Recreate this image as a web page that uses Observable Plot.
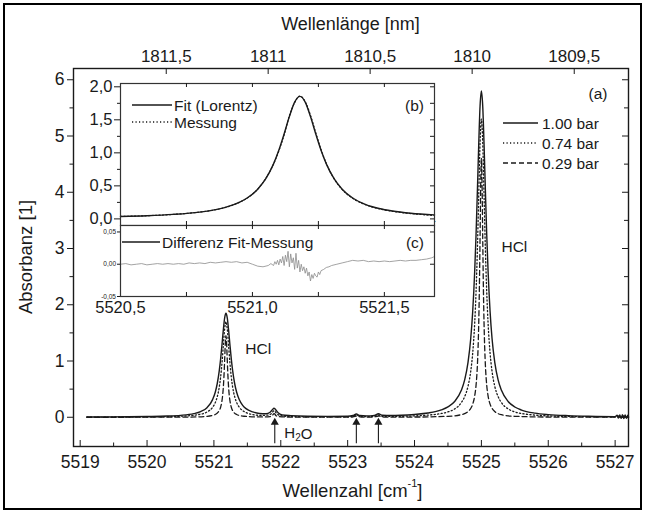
<!DOCTYPE html>
<html><head><meta charset="utf-8">
<script src="https://cdn.jsdelivr.net/npm/d3@7"></script>
<script src="https://cdn.jsdelivr.net/npm/@observablehq/plot@0.6"></script>
<style>
body{margin:0;background:#fff;}
#wrap{position:relative;width:645px;height:513px;overflow:hidden;font-family:"Liberation Sans",Arial,sans-serif;background:#fff;}
#border{position:absolute;left:3px;top:3px;width:635px;height:503px;border:2px solid #000;pointer-events:none;}
</style></head><body>
<div id="wrap"><div id="border"></div></div>
<script>
// ---------- data ----------
// main spectrum: [wavenumber cm-1, absorbance]
const p100 = [[5519.10,0.005],[5519.50,0.007],[5520.00,0.013],[5520.30,0.021],[5520.50,0.034],[5520.70,0.065],[5520.80,0.100],[5520.90,0.175],[5520.98,0.313],[5521.02,0.445],[5521.05,0.600],[5521.08,0.828],[5521.10,1.034],[5521.12,1.281],[5521.14,1.544],[5521.16,1.764],[5521.18,1.850],[5521.20,1.764],[5521.22,1.544],[5521.24,1.281],[5521.26,1.034],[5521.28,0.828],[5521.31,0.600],[5521.34,0.445],[5521.38,0.311],[5521.43,0.212],[5521.48,0.153],[5521.58,0.095],[5521.68,0.067],[5521.78,0.062],[5521.84,0.090],[5521.87,0.129],[5521.90,0.160],[5521.93,0.124],[5521.96,0.080],[5522.02,0.042],[5522.15,0.028],[5522.40,0.018],[5522.70,0.016],[5523.00,0.017],[5523.08,0.032],[5523.13,0.057],[5523.18,0.032],[5523.28,0.024],[5523.40,0.033],[5523.46,0.063],[5523.52,0.035],[5523.65,0.030],[5523.80,0.035],[5524.00,0.050],[5524.20,0.075],[5524.40,0.130],[5524.50,0.185],[5524.60,0.280],[5524.70,0.479],[5524.75,0.665],[5524.80,0.976],[5524.84,1.390],[5524.87,1.880],[5524.90,2.600],[5524.92,3.240],[5524.94,4.020],[5524.96,4.840],[5524.98,5.530],[5525.00,5.800],[5525.02,5.530],[5525.04,4.840],[5525.06,4.020],[5525.08,3.240],[5525.10,2.600],[5525.13,1.880],[5525.16,1.390],[5525.20,0.976],[5525.25,0.665],[5525.30,0.479],[5525.40,0.280],[5525.50,0.182],[5525.60,0.128],[5525.80,0.073],[5526.00,0.047],[5526.30,0.028],[5526.60,0.018],[5527.00,0.012],[5527.03,0.035],[5527.05,-0.015],[5527.07,0.040],[5527.09,-0.020],[5527.11,0.045],[5527.13,-0.025],[5527.15,0.040],[5527.17,-0.020],[5527.19,0.035],[5527.20,0.000]];
const p074 = [[5519.10,0.003],[5519.50,0.004],[5520.00,0.006],[5520.50,0.018],[5520.80,0.055],[5520.90,0.095],[5520.98,0.177],[5521.02,0.260],[5521.05,0.366],[5521.08,0.537],[5521.10,0.712],[5521.12,0.955],[5521.14,1.263],[5521.16,1.564],[5521.18,1.700],[5521.20,1.564],[5521.22,1.263],[5521.24,0.955],[5521.26,0.712],[5521.28,0.537],[5521.31,0.366],[5521.34,0.260],[5521.38,0.177],[5521.43,0.117],[5521.48,0.083],[5521.58,0.048],[5521.70,0.033],[5521.82,0.040],[5521.86,0.067],[5521.90,0.116],[5521.94,0.065],[5521.98,0.034],[5522.10,0.016],[5522.50,0.008],[5523.00,0.009],[5523.08,0.021],[5523.13,0.039],[5523.18,0.021],[5523.30,0.011],[5523.40,0.018],[5523.46,0.040],[5523.52,0.018],[5523.70,0.016],[5524.00,0.024],[5524.20,0.038],[5524.40,0.067],[5524.50,0.095],[5524.60,0.148],[5524.70,0.260],[5524.75,0.366],[5524.80,0.551],[5524.84,0.811],[5524.87,1.140],[5524.90,1.675],[5524.92,2.221],[5524.94,2.979],[5524.96,3.938],[5524.98,4.876],[5525.00,5.300],[5525.02,4.876],[5525.04,3.938],[5525.06,2.979],[5525.08,2.221],[5525.10,1.675],[5525.13,1.140],[5525.16,0.811],[5525.20,0.551],[5525.25,0.366],[5525.30,0.260],[5525.40,0.148],[5525.50,0.095],[5525.60,0.067],[5525.80,0.038],[5526.00,0.024],[5526.50,0.011],[5527.00,0.006],[5527.06,0.025],[5527.10,-0.012],[5527.14,0.030],[5527.18,-0.010],[5527.20,0.012]];
const p029 = [[5519.10,0.000],[5520.00,0.001],[5520.60,0.003],[5520.90,0.017],[5521.02,0.049],[5521.06,0.085],[5521.10,0.178],[5521.12,0.290],[5521.13,0.384],[5521.14,0.522],[5521.15,0.725],[5521.16,1.003],[5521.17,1.305],[5521.18,1.450],[5521.19,1.305],[5521.20,1.003],[5521.21,0.725],[5521.22,0.522],[5521.23,0.384],[5521.24,0.290],[5521.26,0.178],[5521.30,0.085],[5521.34,0.049],[5521.45,0.018],[5521.70,0.005],[5521.84,0.012],[5521.87,0.028],[5521.90,0.063],[5521.93,0.028],[5521.96,0.012],[5522.10,0.004],[5522.50,0.002],[5523.05,0.002],[5523.13,0.022],[5523.20,0.003],[5523.38,0.003],[5523.46,0.022],[5523.54,0.004],[5524.00,0.004],[5524.50,0.017],[5524.70,0.046],[5524.80,0.101],[5524.84,0.156],[5524.87,0.233],[5524.90,0.380],[5524.92,0.566],[5524.94,0.920],[5524.95,1.219],[5524.96,1.656],[5524.97,2.300],[5524.98,3.180],[5524.99,4.140],[5525.00,4.600],[5525.01,4.140],[5525.02,3.180],[5525.03,2.300],[5525.04,1.656],[5525.05,1.219],[5525.06,0.920],[5525.08,0.566],[5525.10,0.380],[5525.13,0.233],[5525.16,0.156],[5525.20,0.101],[5525.30,0.046],[5525.50,0.017],[5526.00,0.004],[5527.20,0.002]];
const seriesNames = ["1.00 bar", "0.74 bar", "0.29 bar"];

// inset (b): Lorentz fit and measurement of the 5521.18 line
const fitB = [[5520.50,0.037],[5520.60,0.048],[5520.70,0.068],[5520.80,0.103],[5520.85,0.133],[5520.90,0.178],[5520.95,0.251],[5520.98,0.316],[5521.02,0.450],[5521.05,0.605],[5521.08,0.833],[5521.10,1.039],[5521.12,1.286],[5521.14,1.549],[5521.16,1.769],[5521.18,1.855],[5521.20,1.769],[5521.22,1.549],[5521.24,1.286],[5521.26,1.039],[5521.28,0.833],[5521.31,0.605],[5521.34,0.450],[5521.38,0.316],[5521.43,0.217],[5521.48,0.158],[5521.53,0.120],[5521.60,0.086],[5521.69,0.061]];
const measB = [[5520.50,0.037],[5520.60,0.048],[5520.70,0.068],[5520.80,0.103],[5520.85,0.131],[5520.90,0.176],[5520.95,0.250],[5520.98,0.315],[5521.02,0.452],[5521.05,0.608],[5521.08,0.831],[5521.10,1.030],[5521.12,1.270],[5521.14,1.560],[5521.16,1.760],[5521.18,1.860],[5521.20,1.775],[5521.22,1.570],[5521.24,1.305],[5521.26,1.050],[5521.28,0.838],[5521.31,0.604],[5521.34,0.446],[5521.38,0.311],[5521.43,0.212],[5521.48,0.153],[5521.53,0.115],[5521.60,0.081],[5521.69,0.051]];
// inset (c): difference fit - measurement
const residC = [[5520.50,0.000],[5520.52,0.001],[5520.54,-0.001],[5520.56,0.000],[5520.58,0.001],[5520.60,-0.001],[5520.62,0.000],[5520.64,0.001],[5520.66,0.000],[5520.68,0.001],[5520.70,0.000],[5520.72,0.001],[5520.74,0.000],[5520.76,0.002],[5520.78,0.001],[5520.80,0.002],[5520.82,0.001],[5520.84,0.003],[5520.86,0.002],[5520.88,0.003],[5520.90,0.004],[5520.92,0.003],[5520.94,0.004],[5520.96,0.002],[5520.98,0.003],[5521.00,0.000],[5521.02,-0.003],[5521.04,-0.004],[5521.06,-0.002],[5521.07,0.001],[5521.08,-0.002],[5521.085,0.004],[5521.09,0.000],[5521.095,0.006],[5521.10,-0.001],[5521.105,0.008],[5521.11,0.002],[5521.115,0.012],[5521.12,-0.002],[5521.125,0.014],[5521.13,0.004],[5521.135,0.020],[5521.14,-0.004],[5521.145,0.016],[5521.15,0.002],[5521.155,0.010],[5521.16,-0.008],[5521.165,0.017],[5521.17,-0.006],[5521.175,0.006],[5521.18,-0.012],[5521.185,0.000],[5521.19,-0.010],[5521.195,-0.004],[5521.20,-0.014],[5521.205,-0.006],[5521.21,-0.018],[5521.215,-0.012],[5521.22,-0.026],[5521.225,-0.016],[5521.23,-0.022],[5521.235,-0.014],[5521.24,-0.018],[5521.245,-0.020],[5521.25,-0.012],[5521.255,-0.016],[5521.26,-0.010],[5521.27,-0.008],[5521.28,-0.005],[5521.29,-0.004],[5521.30,-0.002],[5521.32,0.000],[5521.34,0.002],[5521.36,0.004],[5521.38,0.006],[5521.40,0.005],[5521.42,0.006],[5521.44,0.004],[5521.46,0.005],[5521.48,0.004],[5521.50,0.005],[5521.52,0.004],[5521.54,0.005],[5521.56,0.006],[5521.58,0.005],[5521.60,0.006],[5521.62,0.006],[5521.64,0.007],[5521.66,0.008],[5521.68,0.010],[5521.69,0.012]];

// axes ticks
const xMajor = [5519, 5520, 5521, 5522, 5523, 5524, 5525, 5526, 5527];
const xMinor = [5519.5, 5520.5, 5521.5, 5522.5, 5523.5, 5524.5, 5525.5, 5526.5];
const yMajor = [0, 1, 2, 3, 4, 5, 6];
const yMinor = [0.5, 1.5, 2.5, 3.5, 4.5, 5.5];
const lamTicks = [1811.5, 1811, 1810.5, 1810, 1809.5];
const lamLabels = ["1811,5", "1811", "1810,5", "1810", "1809,5"];
const bYMajor = [0, 0.5, 1, 1.5, 2];
const bYMinor = [0.25, 0.75, 1.25, 1.75];
const bcXTicks = [5520.75, 5521.0, 5521.25, 5521.5];
const cXLabels = [5520.5, 5521.0, 5521.5];
const cYTicks = [-0.05, 0, 0.05];

// annotations
const arrowNu = [5521.91, 5523.13, 5523.46];
const arrowTail = [-0.47, -0.47, -0.47];
const arrowTip = [-0.09, -0.09, -0.09];
const hclLabels = [{x: 5521.47, y: 1.22, text: "HCl"}, {x: 5525.30, y: 3.02, text: "HCl"}];
const h2oLabel = {x: 5522.06, y: -0.28};

// ---------- drawing ----------
const FONT = "'Liberation Sans', Arial, sans-serif";
const INK = "#1a1a1a";
const pts = a => a.map(([x, y]) => ({x, y}));
const comma = n => d => d.toFixed(n).replace(".", ",");
const lamNu = lamTicks.map(l => 1e7 / l);
const lamLabelOf = new Map(lamNu.map((v, i) => [v, lamLabels[i]]));
const arrows = arrowNu.map((nu, i) => ({nu, y1: arrowTail[i], y2: arrowTip[i]}));

const W = 645, H = 513, mL = 73, mR = 17, mT = 68, mB = 67;
const iW = W - mL - mR, iH = H - mT - mB;

const main = Plot.plot({
  width: W, height: H, marginLeft: mL, marginRight: mR, marginTop: mT, marginBottom: mB,
  style: {fontFamily: FONT, background: "transparent", overflow: "visible", color: INK},
  x: {domain: [5518.9, 5527.2]},
  y: {domain: [-0.52, 6.2]},
  marks: [
    Plot.line(pts(p029), {x: "x", y: "y", curve: "monotone-x", stroke: INK, strokeWidth: 1.3, strokeDasharray: "5,3"}),
    Plot.line(pts(p074), {x: "x", y: "y", curve: "monotone-x", stroke: INK, strokeWidth: 1.3, strokeDasharray: "1.2,2.3"}),
    Plot.line(pts(p100), {x: "x", y: "y", curve: "monotone-x", stroke: INK, strokeWidth: 1.4}),
    Plot.ruleX(arrows, {x: "nu", y1: "y1", y2: "y2", stroke: INK, strokeWidth: 1.1}),
    Plot.dot(arrows, {x: "nu", y: "y2", symbol: "triangle", r: 3, fill: INK, stroke: "none"}),
    Plot.text(hclLabels, {x: "x", y: "y", text: "text", textAnchor: "start", fontSize: 15.5, fill: INK}),
    Plot.frame({stroke: INK, strokeWidth: 1.4}),
    Plot.axisY({ticks: yMajor, anchor: "left", tickSize: 6, tickPadding: 3, fontSize: 17.5, label: null, tickFormat: d => String(d)}),
    Plot.axisY({ticks: yMinor, anchor: "left", tickSize: 3.5, label: null, tickFormat: () => ""}),
    Plot.tickY(yMajor, {y: d => d, insetLeft: iW - 6, stroke: INK}),
    Plot.tickY(yMinor, {y: d => d, insetLeft: iW - 4, stroke: INK}),
    Plot.axisX({ticks: xMajor, anchor: "bottom", tickSize: 0, tickPadding: 9, fontSize: 17.5, label: null, tickFormat: d => String(d)}),
    Plot.tickX(xMajor, {x: d => d, insetTop: iH - 6, stroke: INK}),
    Plot.tickX(xMinor, {x: d => d, insetTop: iH - 3.5, stroke: INK}),
    Plot.axisX({ticks: lamNu, anchor: "top", tickSize: 0, tickPadding: 7, fontSize: 17, label: null, tickFormat: d => lamLabelOf.get(d)}),
    Plot.tickX(lamNu, {x: d => d, insetBottom: iH - 6, stroke: INK})
  ]
});
document.getElementById("wrap").appendChild(main);

const svg = d3.select(main);
const cx = (mL + W - mR) / 2;
function txt(sel, x, y, s, size, anchor = "middle") {
  return sel.append("text").attr("x", x).attr("y", y).attr("text-anchor", anchor)
    .attr("dominant-baseline", "central").attr("font-family", FONT).attr("font-size", size)
    .attr("fill", INK).text(s);
}
txt(svg, cx, 24, "Wellenlänge [nm]", 18);
txt(svg, 25, mT + iH / 2, "Absorbanz [1]", 18.5).attr("transform", `rotate(-90 25 ${mT + iH / 2})`);
const xl = txt(svg, cx + 2, 490, "Wellenzahl [cm", 18.5);
xl.append("tspan").attr("font-size", 11).attr("dy", -7).text("-1");
xl.append("tspan").attr("dy", 7).text("]");
// H2O label
const sx = main.scale("x"), sy = main.scale("y");
const h2o = txt(svg, sx.apply(h2oLabel.x), sy.apply(h2oLabel.y), "H", 15, "start");
h2o.append("tspan").attr("font-size", 10).attr("dy", 4).text("2");
h2o.append("tspan").attr("dy", -4).text("O");
// (a) + legend
txt(svg, 598, 93, "(a)", 15.5);
const dashes = [null, "1.2,2.3", "5,3"];
seriesNames.forEach((n, i) => {
  const y = 123 + i * 20;
  svg.append("line").attr("x1", 503).attr("x2", 538).attr("y1", y).attr("y2", y)
    .attr("stroke", INK).attr("stroke-width", 1.3).attr("stroke-dasharray", dashes[i]);
  txt(svg, 542, y, n, 15.5, "start");
});

// ---------- inset (b) ----------
const bL = 90, bT = 78;
const bW = 350, bH = 147, bmL = 30, bmR = 6, bmT = 5, bmB = 0;
const biW = bW - bmL - bmR, biH = bH - bmT - bmB;
const insetB = Plot.plot({
  width: bW, height: bH, marginLeft: bmL, marginRight: bmR, marginTop: bmT, marginBottom: bmB,
  style: {fontFamily: FONT, background: "transparent", overflow: "visible", color: INK},
  x: {domain: [5520.5, 5521.69]},
  y: {domain: [-0.1, 2.05]},
  marks: [
    Plot.frame({fill: "white", stroke: "none"}),
    Plot.line(pts(measB), {x: "x", y: "y", curve: "monotone-x", stroke: INK, strokeWidth: 1.2, strokeDasharray: "1.2,2.3"}),
    Plot.line(pts(fitB), {x: "x", y: "y", curve: "monotone-x", stroke: INK, strokeWidth: 1.4}),
    Plot.frame({stroke: "#333", strokeWidth: 1.2}),
    Plot.axisY({ticks: bYMajor, anchor: "left", tickSize: 6, tickPadding: 2, fontSize: 16.5, label: null, tickFormat: comma(1)}),
    Plot.axisY({ticks: bYMinor, anchor: "left", tickSize: 3, label: null, tickFormat: () => ""}),
    Plot.tickY(bYMajor.concat(bYMinor), {y: d => d, insetLeft: biW - 4, stroke: INK}),
    Plot.tickX(bcXTicks, {x: d => d, insetBottom: biH - 4, stroke: INK}),
    Plot.tickX(bcXTicks, {x: d => d, insetTop: biH - 4, stroke: INK})
  ]
});
insetB.style.left = bL + "px"; insetB.style.top = bT + "px"; insetB.style.position = "absolute";
document.getElementById("wrap").appendChild(insetB);
const sb = d3.select(insetB);
[["Fit (Lorentz)", null], ["Messung", "1.2,2.3"]].forEach(([n, da], i) => {
  const y = 27 + i * 17;
  sb.append("line").attr("x1", 42).attr("x2", 82).attr("y1", y).attr("y2", y)
    .attr("stroke", INK).attr("stroke-width", 1.3).attr("stroke-dasharray", da);
  txt(sb, 84, y, n, 15.5, "start");
});
txt(sb, 334, 27, "(b)", 15.5, "end");

// ---------- inset (c) ----------
const cT = 225;
const cH = 91, cmT = 0, cmB = 20;
const ciH = cH - cmT - cmB;
const insetC = Plot.plot({
  width: bW, height: cH, marginLeft: bmL, marginRight: bmR, marginTop: cmT, marginBottom: cmB,
  style: {fontFamily: FONT, background: "transparent", overflow: "visible", color: INK},
  x: {domain: [5520.5, 5521.69]},
  y: {domain: [-0.05, 0.06]},
  marks: [
    Plot.frame({fill: "white", stroke: "none"}),
    Plot.line(pts(residC), {x: "x", y: "y", stroke: "#8c8c8c", strokeWidth: 0.8}),
    Plot.frame({stroke: "#333", strokeWidth: 1.2}),
    Plot.axisY({ticks: cYTicks, anchor: "left", tickSize: 3, tickPadding: 1.5, fontSize: 6.5, label: null, tickFormat: comma(2)}),
    Plot.axisX({ticks: cXLabels, anchor: "bottom", tickSize: 0, tickPadding: 5, fontSize: 16.5, label: null, tickFormat: comma(1)}),
    Plot.tickX(bcXTicks, {x: d => d, insetTop: ciH - 4, stroke: INK}),
    Plot.tickX(bcXTicks, {x: d => d, insetBottom: ciH - 4, stroke: INK}),
    Plot.tickY(cYTicks.slice(1), {y: d => d, insetLeft: biW - 4, stroke: INK})
  ]
});
insetC.style.left = bL + "px"; insetC.style.top = cT + "px"; insetC.style.position = "absolute";
document.getElementById("wrap").appendChild(insetC);
const sc = d3.select(insetC);
sc.append("line").attr("x1", 32).attr("x2", 70).attr("y1", 17).attr("y2", 17).attr("stroke", INK).attr("stroke-width", 1.3);
txt(sc, 72, 17, "Differenz Fit-Messung", 15.5, "start");
txt(sc, 334, 17, "(c)", 15.5, "end");
</script></body></html>
